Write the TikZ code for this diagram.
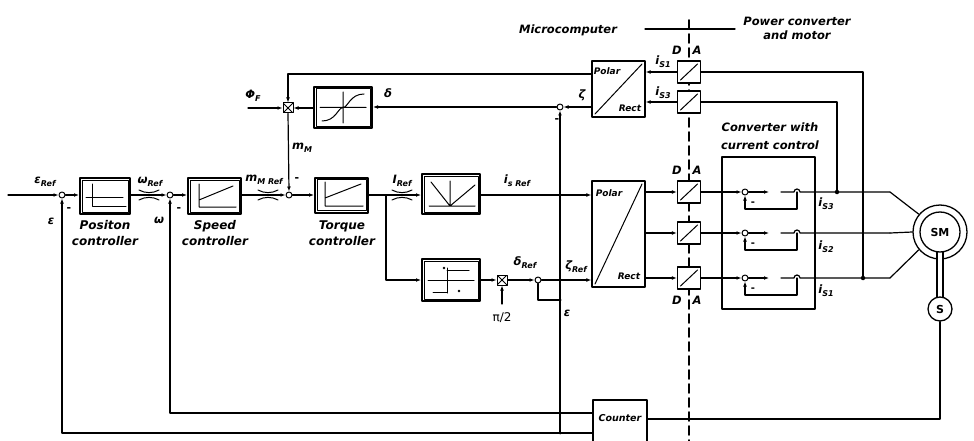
\documentclass[tikz,border=0pt]{standalone}
\usepackage{fontspec}
\setmainfont{DejaVu Sans}
\usetikzlibrary{arrows.meta,calc}
\newcommand\lo[1]{\raisebox{-0.5ex}{\fontsize{8}{8}\selectfont #1}}
\begin{document}
\begin{tikzpicture}[x=1pt,y=-1pt,line width=1.2pt,line join=round,line cap=round,
  lab/.style={font=\bfseries\itshape\fontsize{11.5}{15}\selectfont,inner sep=0pt,align=center},
  blab/.style={font=\bfseries\itshape\fontsize{12}{15.5}\selectfont,inner sep=0pt,align=center},
  sml/.style={font=\bfseries\itshape\fontsize{9}{10}\selectfont,inner sep=0pt},
  sig/.style={-{Latex[length=5pt,width=3.8pt]}},
  blk/.style={draw,line width=2pt,fill=white,inner sep=0pt},
  plainblk/.style={draw,line width=1.2pt,fill=white,inner sep=0pt},
  diag/.style={path picture={\draw[line width=1pt]
      ([shift={(3pt,3pt)}]path picture bounding box.south west) --
      ([shift={(-3pt,-3pt)}]path picture bounding box.north east);}},
  conv/.style={draw,line width=1.2pt,fill=white,minimum width=23pt,minimum height=22pt,inner sep=0pt,diag},
  sumj/.style={circle,draw,line width=1pt,fill=white,minimum size=6pt,inner sep=0pt},
  mulj/.style={draw,line width=1pt,fill=white,minimum size=10pt,inner sep=0pt,
     path picture={\draw[line width=0.8pt]
       (path picture bounding box.north west)--(path picture bounding box.south east)
       (path picture bounding box.north east)--(path picture bounding box.south west);}},
  dotj/.style={circle,fill,minimum size=4.5pt,inner sep=0pt},
  pinch/.pic={\draw[line width=1pt] (-10,-5) .. controls (-4,-1.5) and (4,-1.5) .. (10,-5);
              \draw[line width=1pt] (-10,5) .. controls (-4,1.5) and (4,1.5) .. (10,5);}
]
\useasboundingbox (0,0) rectangle (974,441);

% ---------- separation between microcomputer and power part ----------
\draw[line width=1.7pt,dash pattern=on 9pt off 5pt] (689,20) -- (689,445);
\draw[line width=1.3pt] (645,29) -- (735,29);
\node[lab] at (568,30) {Microcomputer};
\node[lab] at (797,21) {Power converter};
\node[lab] at (797,35) {and motor};

% ---------- forward path ----------
\coordinate (src) at (8,195);
\node[sumj] (j1) at (62,195) {};
\node[blk,minimum width=50pt,minimum height=36pt] (pc) at (105,196) {};
\node[sumj] (j2) at (170,195) {};
\node[blk,minimum width=53pt,minimum height=36pt] (sc) at (214.5,196) {};
\node[sumj] (j3) at (289,195) {};
\node[blk,minimum width=53pt,minimum height=35pt] (tc) at (341.5,195) {};
\coordinate (br) at (386,195);
\node[blk,minimum width=58pt,minimum height=40pt] (ab) at (451,194) {};
\node[blk,minimum width=58pt,minimum height=42pt] (sg) at (451,280) {};
\node[mulj] (m2) at (502,280) {};
\node[sumj] (j5) at (538,280) {};
\node[plainblk,minimum width=53pt,minimum height=106pt,diag] (prl) at (618.5,234) {};
\node[plainblk,minimum width=53pt,minimum height=56pt,diag] (pru) at (618.5,89) {};
\node[blk,minimum width=58pt,minimum height=41pt] (sn) at (343,107.5) {};
\node[mulj] (m1) at (288,108) {};
\node[sumj] (j4) at (560,107) {};

% inner frames of the controller blocks
\foreach \b in {pc,sc,tc,ab,sg,sn}
  \draw[line width=0.6pt] ($(\b.north west)+(2.8,2.8)$) rectangle ($(\b.south east)+(-2.8,-2.8)$);

% block characteristics
\draw[line width=1pt] (92,184) -- (92,206) -- (126,206) (86,197) -- (123,197);
\draw[line width=1pt] (199,184) -- (199,207) -- (236,207) (199,200) -- (233,186);
\draw[line width=1pt] (325,182) -- (325,206) -- (363,206) (325,198) -- (361,184);
\draw[line width=1pt] (429,206) -- (475,206) (450,181) -- (450,206)
      (431,182) -- (450,206) -- (475,185);
\draw[line width=1pt] (428,280) -- (474,280) (447,268) -- (447,293)
      (447,270) -- (469,270) (433,292) -- (447,292);
\fill (444,268) circle (1.4) (459,291) circle (1.4);
\draw[line width=1pt] (320,107.5) -- (366,107.5) (343,92) -- (343,123)
      (322,121) .. controls (336,121) and (338,107.5) .. (343,107.5)
      .. controls (348,107.5) and (350,94) .. (364,94);

% labels of the blocks
\node[blab] at (105,233) {Positon\\controller};
\node[blab] at (215,233) {Speed\\controller};
\node[blab] at (342,233) {Torque\\controller};
\node[sml] at (607,71) {Polar};
\node[sml] at (630,108) {Rect};
\node[sml] at (609,193) {Polar};
\node[sml] at (629,276) {Rect};

% signal flow
\draw[sig] (src) -- (j1.west);
\draw[sig] (j1.east) -- (pc.west |- j1);
\draw[sig] (pc.east |- j2) -- (j2.west);
\draw[sig] (j2.east) -- (sc.west |- j2);
\draw[sig] (sc.east |- j3) -- (j3.west);
\draw[sig] (j3.east) -- (tc.west |- j3);
\draw[sig] (tc.east |- br) -- (ab.west |- br);
\draw[sig] (br) -- (386,280) -- (sg.west |- m2);
\draw[sig] (sg.east |- m2) -- (m2.west);
\draw[sig] (m2.east) -- (j5.west);
\draw[sig] (j5.east) -- (prl.west |- j5);
\draw[sig] (ab.east |- br) -- (prl.west |- br);
\coordinate (pin) at (502,304);
\draw[sig] (pin) -- (m2.south);
\draw (j5.south) -- (538,300) -- (560,300);
\node[dotj,minimum size=3pt] at (560,300) {};

\pic at (149,195) {pinch};
\pic at (268,195) {pinch};
\pic at (402,195) {pinch};

% torque calculation loop
\draw[sig] (j4.east -| pru.west) -- (j4.east);
\draw[sig] (j4.west) -- (sn.east |- j4);
\draw[sig] (sn.west |- m1) -- (m1.east);
\draw[sig] (pru.west |- 0,74) -- (288,74) -- (m1.north);
\coordinate (phif) at (248,108);
\draw[sig] (phif) -- (m1.west);
\draw[sig] (m1.south) -- (j3.north);

% A/D converters for the measured currents
\node[conv] (ad1) at (689,72) {};
\node[conv] (ad2) at (689,102) {};
\draw[sig] (ad1.west) -- (pru.east |- ad1);
\draw[sig] (ad2.west) -- (pru.east |- ad2);

% D/A converters and converter with current control
\draw[line width=1.2pt] (722,157) rectangle (815,309);
\node[sumj] (sm) at (940,232) [minimum size=54pt,line width=1.3pt] {};
\foreach \y/\n in {192/1,233/2,278/3} {
  \node[conv] (da\n) at (689,\y) {};
  \node[sumj] (cj\n) at (745,\y) {};
  \draw[sig] (prl.east |- da\n) -- (da\n.west);
  \draw[sig] (da\n.east) -- (cj\n.west);
  \draw[sig] (cj\n.east) -- (769,\y);
  \draw (781,\y) -- (794,\y) arc (180:360:3) -- (890,\y);
  \draw[sig] (797,\y) -- (797,\y+17) -- (745,\y+17) -- (cj\n.south);
  \node[font=\bfseries\fontsize{10}{10}\selectfont,inner sep=0pt] at (753,\y+12) {-};
}
\draw (890,192) -- (sm.140);
\draw (890,233) -- (sm.west);
\draw (890,278) -- (sm.220);
\draw (863,278) -- (863,72) -- (ad1.east);
\draw (837,192) -- (837,102) -- (ad2.east);
\node[dotj] at (863,278) {};
\node[dotj] at (837,192) {};

% synchronous motor and position sensor
\draw[line width=1.3pt] (940,232) circle (20);
\node[font=\bfseries\fontsize{11}{11}\selectfont] at (940,232) {SM};
\node[circle,draw,line width=1.3pt,minimum size=24pt,inner sep=0pt,
      font=\bfseries\fontsize{11}{11}\selectfont] (sr) at (940,309) {S};
\fill[white] (936.5,254) rectangle (943.5,296);
\draw (937,252) -- (937,297) (943,252) -- (943,297);

% counter and feedback lines
\node[plainblk,minimum width=54pt,minimum height=48pt] (cnt) at (620,424) {};
\node[font=\bfseries\itshape\fontsize{9.5}{10}\selectfont] at (620,418) {Counter};
\draw (sr.south) -- (940,419) -- (cnt.east |- 0,419);
\draw[sig] (cnt.west |- 0,413) -- (170,413) -- (j2.south);
\draw[sig] (cnt.west |- 0,433) -- (62,433) -- (j1.south);
\draw[sig] (560,433) -- (j4.south);
\node[dotj,minimum size=3pt] at (560,433) {};

% signal names
\node[lab] at (45,182) {ε\lo{Ref}};
\node[lab] at (51,221) {ε};
\node[lab] at (150,182) {ω\lo{Ref}};
\node[lab] at (159,220) {ω};
\node[lab] at (264,180) {m\lo{M Ref}};
\node[lab] at (302,148) {m\lo{M}};
\node[lab] at (253,96) {Φ\lo{F}};
\node[lab] at (388,93) {δ};
\node[lab] at (402,181) {I\lo{Ref}};
\node[lab] at (517,181) {i\lo{s Ref}};
\node[lab] at (525,263) {δ\lo{Ref}};
\node[lab] at (576,267) {ζ\lo{Ref}};
\node[font=\fontsize{12}{12}\selectfont] at (502,318) {π/2};
\node[lab] at (567,313) {ε};
\node[lab] at (582,95) {ζ};
\node[lab] at (663,62) {i\lo{S1}};
\node[lab] at (663,93) {i\lo{S3}};
\foreach \yy in {50,170,300} {
  \node[lab] at (677,\yy) {D};
  \node[lab] at (697,\yy) {A};
}
\node[lab] at (770,127) {Converter with};
\node[lab] at (770,145) {current control};
\node[lab] at (826,204) {i\lo{S3}};
\node[lab] at (826,247) {i\lo{S2}};
\node[lab] at (826,291) {i\lo{S1}};
% minus signs at the summing points
\foreach \p in {(69,210),(179,210),(297,180),(557,121)}
  \node[font=\bfseries\fontsize{11}{11}\selectfont] at \p {-};
\end{tikzpicture}
\end{document}
